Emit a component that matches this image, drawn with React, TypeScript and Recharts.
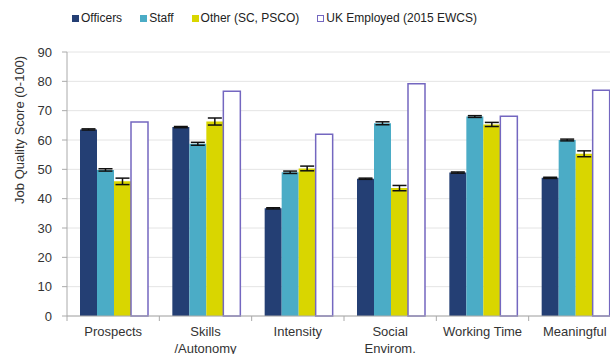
import React from 'react'
import { BarChart, Bar, XAxis, YAxis, CartesianGrid, Legend, ErrorBar } from 'recharts'

const categories = ['Prospects', 'Skills\n/Autonomy', 'Intensity', 'Social\nEnvirom.', 'Working Time', 'Meaningful']
const officers = [63.6, 64.4, 36.7, 46.8, 48.9, 47.1]
const officersErr = [0.2, 0.2, 0.2, 0.2, 0.2, 0.2]
const staff = [49.8, 58.7, 49.0, 65.7, 68.0, 60.0]
const staffErr = [0.4, 0.5, 0.4, 0.5, 0.3, 0.3]
const other = [45.9, 66.3, 50.3, 43.6, 65.3, 55.3]
const otherErr = [1.1, 1.2, 0.8, 0.9, 0.7, 1.0]
const ukEmployed = [66.1, 76.6, 62.0, 79.2, 68.1, 77.0]
const yTicks = [0, 10, 20, 30, 40, 50, 60, 70, 80, 90]

const series = [
    { key: 'officers', name: 'Officers', fill: '#243f74', stroke: 'none' },
    { key: 'staff', name: 'Staff', fill: '#4bacc6', stroke: 'none' },
    { key: 'other', name: 'Other (SC, PSCO)', fill: '#d9d600', stroke: 'none' },
    { key: 'uk', name: 'UK Employed (2015 EWCS)', fill: '#ffffff', stroke: '#7467c0' }
]

const chartData = categories.map((c, i) => ({
    category: c,
    officers: officers[i],
    officersErr: officersErr[i],
    staff: staff[i],
    staffErr: staffErr[i],
    other: other[i],
    otherErr: otherErr[i],
    uk: ukEmployed[i]
}))

const font = '"Liberation Sans", Arial, sans-serif'

const CategoryTick = (props: any) => {
    const { x, y, payload } = props
    const half = payload && payload.offset ? payload.offset : 46
    const lines = String(payload.value).split('\n')
    return (
        <g>
            <line x1={x - half} y1={y} x2={x - half} y2={y + 5} stroke="#aaaaaa" />
            <text x={x} y={y + 20} textAnchor="middle" fontSize={13} fill="#333333" fontFamily={font}>
                {lines.map((l, i) => (
                    <tspan key={i} x={x} dy={i === 0 ? 0 : 17}>{l}</tspan>
                ))}
            </text>
        </g>
    )
}

const LegendContent = () => (
    <div style={{ display: 'flex', alignItems: 'center', fontFamily: font, fontSize: 12, color: '#222222' }}>
        {series.map((s) => (
            <div key={s.key} style={{ display: 'flex', alignItems: 'center', marginRight: 18 }}>
                <span
                    style={{
                        display: 'inline-block',
                        width: s.stroke === 'none' ? 7 : 5,
                        height: s.stroke === 'none' ? 7 : 5,
                        background: s.fill,
                        border: s.stroke === 'none' ? 'none' : `1px solid ${s.stroke}`,
                        marginRight: 2
                    }}
                />
                <span>{s.name}</span>
            </div>
        ))}
    </div>
)

const YLabel = (props: any) => {
    const vb = props.viewBox || { y: 52, height: 264 }
    const cy = vb.y + vb.height * 0.295
    return (
        <text
            x={20}
            y={cy}
            transform={`rotate(-90, 20, ${cy})`}
            textAnchor="middle"
            dominantBaseline="central"
            fontSize={13}
            fill="#333333"
            fontFamily={font}
        >
            Job Quality Score (0-100)
        </text>
    )
}

export default function App() {
    return (
        <div style={{ position: 'absolute', left: 0, top: 0, width: 610, height: 354, overflow: 'hidden', background: '#ffffff' }}>
            <BarChart
                width={630}
                height={354}
                data={chartData}
                margin={{ top: 52, right: 9, left: 0, bottom: 8 }}
                barCategoryGap={13}
                barGap={0}
                style={{ fontFamily: font }}
            >
                <CartesianGrid vertical={false} stroke="#e4e4e4" />
                <XAxis
                    dataKey="category"
                    interval={0}
                    height={30}
                    tickLine={false}
                    tickSize={0}
                    tickMargin={0}
                    axisLine={{ stroke: '#aaaaaa' }}
                    tick={<CategoryTick />}
                />
                <YAxis
                    width={67}
                    domain={[0, 90]}
                    ticks={yTicks}
                    interval={0}
                    tickSize={5}
                    tickMargin={10}
                    axisLine={{ stroke: '#aaaaaa' }}
                    tickLine={{ stroke: '#aaaaaa' }}
                    tick={{ fontSize: 13, fill: '#333333', fontFamily: font }}
                    label={<YLabel />}
                />
                <Legend
                    verticalAlign="middle"
                    layout="horizontal"
                    wrapperStyle={{ top: 11, left: 72, width: 'auto' }}
                    content={<LegendContent />}
                />
                <Bar dataKey="officers" name="Officers" fill="#243f74" isAnimationActive={false}>
                    <ErrorBar dataKey="officersErr" width={7} stroke="#111111" strokeWidth={1.5} />
                </Bar>
                <Bar dataKey="staff" name="Staff" fill="#4bacc6" isAnimationActive={false}>
                    <ErrorBar dataKey="staffErr" width={7} stroke="#111111" strokeWidth={1.5} />
                </Bar>
                <Bar dataKey="other" name="Other (SC, PSCO)" fill="#d9d600" isAnimationActive={false}>
                    <ErrorBar dataKey="otherErr" width={7} stroke="#111111" strokeWidth={1.5} />
                </Bar>
                <Bar dataKey="uk" name="UK Employed (2015 EWCS)" fill="#ffffff" stroke="#7467c0" strokeWidth={1.5} isAnimationActive={false} />
            </BarChart>
        </div>
    )
}
